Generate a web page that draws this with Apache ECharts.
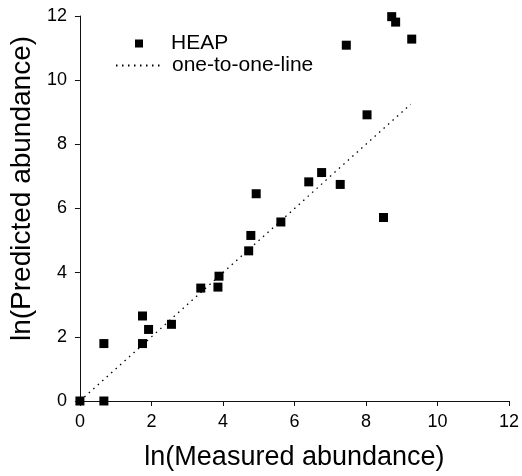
<!DOCTYPE html>
<html>
<head>
<meta charset="utf-8">
<script src="https://cdn.jsdelivr.net/npm/echarts@6/dist/echarts.min.js"></script>
<style>
html,body{margin:0;padding:0;background:#fff;}
#chart{width:522px;height:476px;}
</style>
</head>
<body>
<div id="chart"></div>
<script>
// Measured (x) and predicted (y) ln-abundances, HEAP
const measured = [0, 0.67, 0.67, 1.75, 1.75, 1.92, 2.56, 3.38, 3.86, 3.89, 4.72, 4.78, 4.93, 5.62, 6.40, 6.76, 7.28, 7.45, 8.03, 8.49, 8.72, 8.83, 9.28];
const predicted = [0, 0, 1.79, 2.65, 1.79, 2.23, 2.39, 3.52, 3.55, 3.89, 4.68, 5.16, 6.46, 5.58, 6.83, 7.12, 6.75, 11.09, 8.92, 5.72, 11.98, 11.81, 11.28];
// one-to-one line endpoints
const lineX = [0, 9.25];
const lineY = [0, 9.25];
const axisTicks = [0, 2, 4, 6, 8, 10, 12];

const font = '"Liberation Sans", Arial, sans-serif';
const chart = echarts.init(document.getElementById('chart'), null, {renderer: 'canvas'});
const axisCommon = {
  type: 'value', min: axisTicks[0], max: axisTicks[axisTicks.length - 1], interval: 2,
  axisLine: {show: true, lineStyle: {color: '#111', width: 1}},
  axisTick: {show: true, length: 5, lineStyle: {color: '#111', width: 1}},
  splitLine: {show: false},
  nameLocation: 'middle'
};
chart.setOption({
  animation: false,
  backgroundColor: '#fff',
  grid: {left: 77, right: 9, top: 16, bottom: 73, containLabel: false},
  xAxis: Object.assign({}, axisCommon, {
    name: 'ln(Measured abundance)', nameGap: 43,
    axisLabel: {color: '#000', fontSize: 18, fontFamily: font, margin: 12},
    nameTextStyle: {color: '#000', fontSize: 27, fontFamily: font}
  }),
  yAxis: Object.assign({}, axisCommon, {
    name: 'ln(Predicted abundance)', nameGap: 37,
    axisLabel: {color: '#000', fontSize: 18, fontFamily: font, margin: 13},
    nameTextStyle: {color: '#000', fontSize: 28, fontFamily: font, padding: [0, 0, 0, 40]}
  }),
  legend: [
    {data: [{name: 'HEAP', icon: 'rect'}], left: 130, top: 28, orient: 'vertical', itemWidth: 8, itemHeight: 8,
     textStyle: {color: '#000', fontSize: 21, fontFamily: font, padding: [0, 0, 0, 23]}},
    {data: ['one-to-one-line'], left: 110, top: 50, orient: 'vertical', itemWidth: 47, itemHeight: 8,
     itemStyle: {opacity: 0},
     textStyle: {color: '#000', fontSize: 21, fontFamily: font, padding: [0, 0, 0, 4]}}
  ],
  series: [
    {
      name: 'one-to-one-line', type: 'line', data: lineX.map((x, i) => [x, lineY[i]]),
      symbol: 'none', showSymbol: false, silent: true, z: 1,
      lineStyle: {color: '#000', width: 1.3, type: [1.5, 4.5]},
      itemStyle: {color: '#000'}
    },
    {
      name: 'HEAP', type: 'scatter', data: measured.map((x, i) => [x, predicted[i]]),
      symbol: 'rect', symbolSize: 9, clip: false, z: 3,
      itemStyle: {color: '#000', opacity: 1}
    }
  ]
});
</script>
</body>
</html>
